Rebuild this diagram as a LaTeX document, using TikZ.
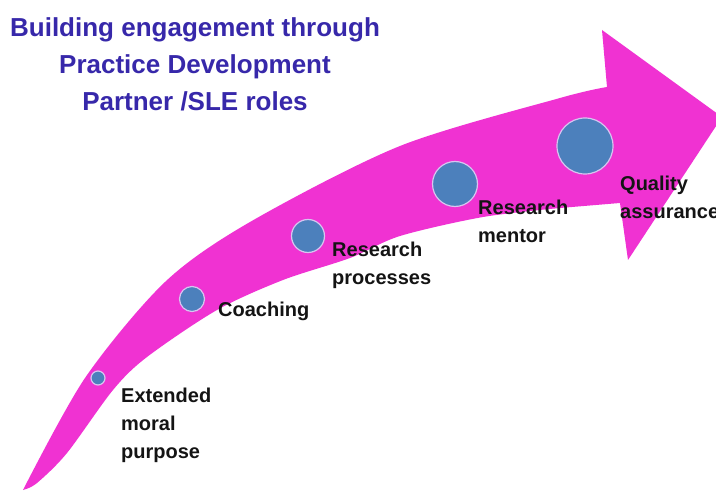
\documentclass[tikz,border=0pt]{standalone}
\usepackage{fontspec}
\setmainfont{Liberation Sans}
\definecolor{arrowpink}{RGB}{240,50,210}
\definecolor{dotblue}{RGB}{76,128,188}
\definecolor{dotrim}{RGB}{216,196,240}
\definecolor{titleviolet}{RGB}{55,40,170}
\usetikzlibrary{positioning}

\begin{document}
\begin{tikzpicture}[x=1pt,y=-1pt,
  dot/.style={circle, draw=dotrim, line width=1.2pt, fill=dotblue, inner sep=0pt},
  steplabel/.style={anchor=north west, inner sep=0pt, align=left, text=black!92,
    font=\fontsize{20}{28}\selectfont\bfseries}]
  \fill[white] (0,0) rectangle (716,492);
  \clip (0,0) rectangle (716,492);
  % curved arrow body and head
  \fill[arrowpink] plot[smooth] coordinates {(23,490) (85,378) (165,282) (250,222) (400,146) (560,98) (607,87)}
    -- (602,30) -- (722,117) -- (628,260) -- (620,203)
    -- plot[smooth] coordinates {(560,208) (483,217) (400,236) (350,258) (283,280) (217,310) (147,357) (113,390) (67,453) (37,483) (23,490)} -- cycle;
  \node[anchor=north, align=center, inner sep=0pt, text=titleviolet,
    font=\fontsize{26}{37}\selectfont\bfseries] (title) at (195,17)
    {Building engagement through\\Practice Development\\Partner /SLE roles};
  \foreach \i/\x/\y/\r in {1/98/378/7, 2/192/299/12.5, 3/308/236/16.5, 4/455/184/22.5, 5/585/146/28}{
    \node[dot, minimum size=\r*2pt] (d\i) at (\x,\y) {};
  }
  \foreach \i/\x/\y/\txt in {%
    1/121/388/{Extended\\moral\\purpose},%
    2/218/302/{Coaching},%
    3/332/242/{Research\\processes},%
    4/478/200/{Research\\mentor},%
    5/620/176/{Quality\\assurance}%
  }{
    \node[steplabel] (s\i) at (\x,\y) {\txt};
  }
\end{tikzpicture}
\end{document}
